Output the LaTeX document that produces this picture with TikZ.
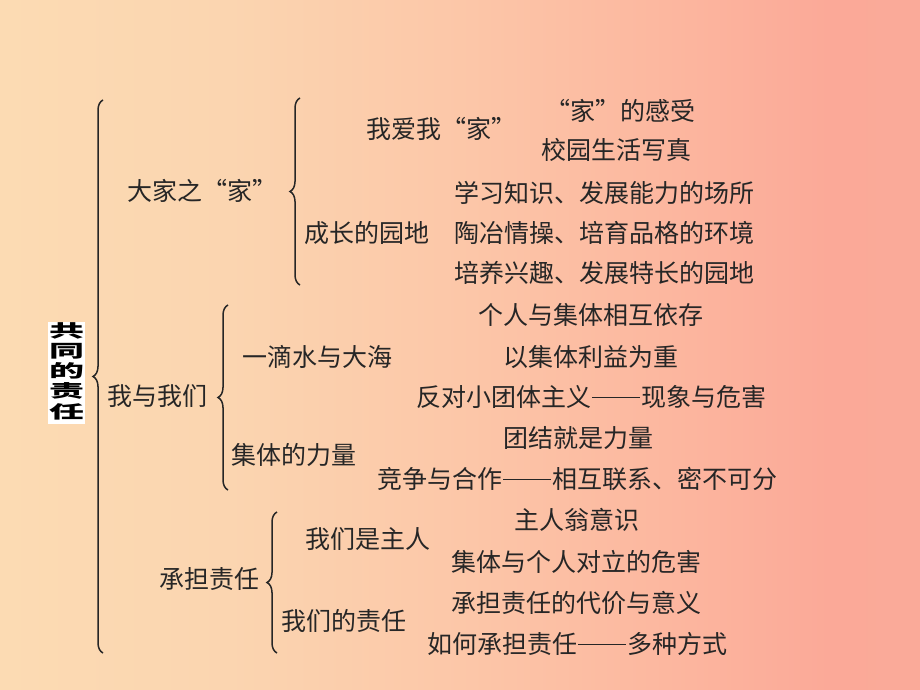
\documentclass[tikz,border=0pt]{standalone}
\usepackage{fontspec}
\newfontfamily\cjk{Noto Sans CJK SC}
\usetikzlibrary{decorations.pathreplacing}
\newcommand\longdash{\hspace{0.04em}\rule[0.33em]{1.92em}{0.05em}\hspace{0.04em}}
\pgfdeclarehorizontalshading{bgshade}{100bp}{rgb(0bp)=(0.988,0.859,0.702); rgb(25bp)=(0.988,0.859,0.702); rgb(37.5bp)=(0.984,0.835,0.69); rgb(50bp)=(0.988,0.78,0.66); rgb(62.5bp)=(0.988,0.71,0.62); rgb(70bp)=(0.984,0.663,0.596); rgb(75bp)=(0.98,0.667,0.6); rgb(100bp)=(0.98,0.667,0.6)}
\begin{document}
\begin{tikzpicture}[x=1pt,y=-1pt,
  txt/.style={inner sep=0pt, anchor=center, font=\cjk\fontsize{25}{25}\selectfont, text=black!85},
  brc/.style={decorate, decoration={brace, amplitude=10pt, aspect=0.5}, line width=1.5pt, draw=black!85}]
\useasboundingbox (0,0) rectangle (920,690);
\fill[shading=bgshade] (0,0) rectangle (920,690);

% title
\node[fill=white, inner sep=0.6pt] (title) at (66.5,373)
  {\scalebox{1}[0.5]{\cjk\bfseries\fontsize{35}{36}\selectfont\begin{tabular}{@{}c@{}}共\\同\\的\\责\\任\end{tabular}}};

% braces
\coordinate (b0t) at (103,100); \coordinate (b0b) at (103,653);
\coordinate (b1t) at (300,98);  \coordinate (b1b) at (300,285);
\coordinate (b2t) at (228,305); \coordinate (b2b) at (228,490);
\coordinate (b3t) at (277,512); \coordinate (b3b) at (277,653);
\draw[brc] (b0b) -- (b0t);
\draw[brc] (b1b) -- (b1t);
\draw[brc] (b2b) -- (b2t);
\draw[brc] (b3b) -- (b3t);

% level 1
\node[txt] (l1a) at (202,191) {大家之“家”};
\node[txt] (l1b) at (157,396) {我与我们};
\node[txt] (l1c) at (209,579) {承担责任};

% level 2
\node[txt] (l2a) at (441,129) {我爱我“家”};
\node[txt] (l2b) at (367,233) {成长的园地};
\node[txt] (l2c) at (317,357) {一滴水与大海};
\node[txt] (l2d) at (294,455) {集体的力量};
\node[txt] (l2e) at (368,539) {我们是主人};
\node[txt] (l2f) at (344,621) {我们的责任};

% level 3
\node[txt] (l3a) at (620,111) {“家”的感受};
\node[txt] (l3b) at (616,150) {校园生活写真};
\node[txt] (l3c) at (604,193) {学习知识、发展能力的场所};
\node[txt] (l3d) at (604,233) {陶冶情操、培育品格的环境};
\node[txt] (l3e) at (604,273) {培养兴趣、发展特长的园地};
\node[txt] (l3f) at (591,315) {个人与集体相互依存};
\node[txt] (l3g) at (591,357) {以集体利益为重};
\node[txt] (l3h) at (591,397) {反对小团体主义\longdash 现象与危害};
\node[txt] (l3i) at (578,438) {团结就是力量};
\node[txt] (l3j) at (577,479) {竞争与合作\longdash 相互联系、密不可分};
\node[txt] (l3k) at (577,520) {主人翁意识};
\node[txt] (l3l) at (576,562) {集体与个人对立的危害};
\node[txt] (l3m) at (576,603) {承担责任的代价与意义};
\node[txt] (l3n) at (577,644) {如何承担责任\longdash 多种方式};
\end{tikzpicture}
\end{document}
